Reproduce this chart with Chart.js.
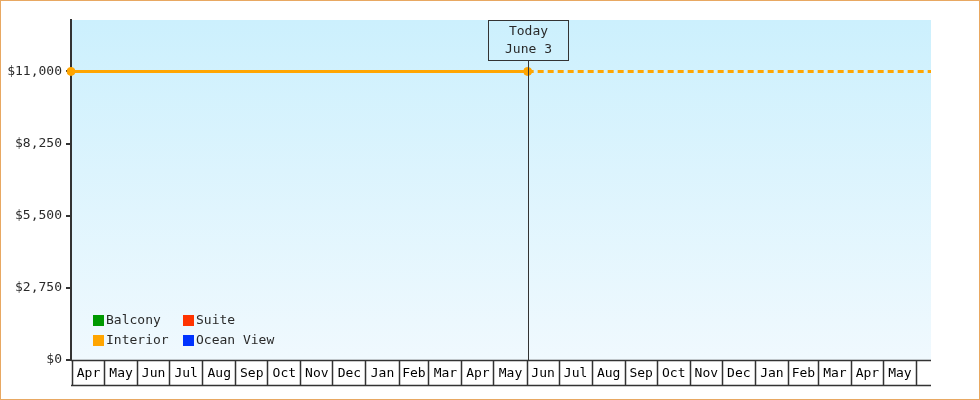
<!DOCTYPE html>
<html>
<head>
<meta charset="utf-8">
<script src="https://cdn.jsdelivr.net/npm/chart.js@4"></script>
<style>
  body { margin: 0; background: #fff; }
</style>
</head>
<body>
<canvas id="chart" width="980" height="400"></canvas>
<script>
const startDate = "2024-04-01";
const endDate = "2026-06-16";
const todayDate = "2025-06-03";
const todayLabel = ["Today", "June 3"];

const monthLabels = ["Apr", "May", "Jun", "Jul", "Aug", "Sep", "Oct", "Nov", "Dec", "Jan", "Feb", "Mar", "Apr",
  "May", "Jun", "Jul", "Aug", "Sep", "Oct", "Nov", "Dec", "Jan", "Feb", "Mar", "Apr", "May"];

const yTicks = [0, 2750, 5500, 8250, 11000];
const yMax = 12960;

const seriesNames = ["Balcony", "Suite", "Interior", "Ocean View"];
const seriesColors = ["#009900", "#ff3300", "#ffa500", "#0033ff"];

const interiorDates = ["2024-04-01", "2025-06-03", "2026-06-16"];
const interiorPrices = [11000, 11000, 11000];

const FONT = "13px 'DejaVu Sans Mono', monospace";
const INK = "#333333";
const TEXT = "#2a2a2a";

function dayOf(s) {
  const t = Date.parse(s + "T00:00:00Z");
  return Math.round((t - Date.parse(startDate + "T00:00:00Z")) / 86400000);
}
const todayDay = dayOf(todayDate);

// month start days for the box axis
const monthStarts = monthLabels.map((m, i) => {
  const d = new Date(Date.UTC(2024, 3 + i, 1));
  return dayOf(d.toISOString().slice(0, 10));
});
monthStarts.push(dayOf(new Date(Date.UTC(2024, 3 + monthLabels.length, 1)).toISOString().slice(0, 10)));

const datasets = seriesNames.map((name, i) => ({
  label: name,
  data: name === "Interior" ? interiorDates.map((d, j) => ({ x: dayOf(d), y: interiorPrices[j] })) : [],
  borderColor: seriesColors[i],
  backgroundColor: seriesColors[i],
  borderWidth: 3,
  pointRadius: name === "Interior" ? [4, 4, 0] : 0,
  pointBorderWidth: 1,
  clip: false,
  segment: {
    borderDash: ctx => ctx.p0.parsed.x >= todayDay ? [6, 4] : undefined
  }
}));

const bgPlugin = {
  id: "bg",
  beforeDraw(chart) {
    const { ctx, chartArea: a } = chart;
    const g = ctx.createLinearGradient(0, a.top, 0, a.bottom);
    g.addColorStop(0, "#ccf0fd");
    g.addColorStop(1, "#f0f9fe");
    ctx.save();
    ctx.fillStyle = g;
    ctx.fillRect(a.left, a.top, a.right - a.left, a.bottom - a.top);
    ctx.restore();
  },
  afterDraw(chart) {
    const { ctx, chartArea: a } = chart;
    const x = chart.scales.x;
    ctx.save();
    // month boxes under the plot
    const top = a.bottom, bot = a.bottom + 25;
    ctx.strokeStyle = INK;
    ctx.lineWidth = 1.5;
    ctx.beginPath();
    ctx.moveTo(a.left, top + 0.5);
    ctx.lineTo(a.right, top + 0.5);
    ctx.moveTo(a.left, bot + 0.5);
    ctx.lineTo(a.right, bot + 0.5);
    monthStarts.forEach(d => {
      const px = Math.round(x.getPixelForValue(d)) + 1.5;
      if (px <= a.right) {
        ctx.moveTo(px, top);
        ctx.lineTo(px, bot);
      }
    });
    ctx.stroke();
    ctx.fillStyle = "#000";
    ctx.font = FONT;
    ctx.textAlign = "center";
    ctx.textBaseline = "middle";
    monthLabels.forEach((m, i) => {
      const l = x.getPixelForValue(monthStarts[i]);
      const r = x.getPixelForValue(monthStarts[i + 1]);
      ctx.fillText(m, (l + r) / 2 + 1.5, top + 13.5);
    });
    // today marker
    const tx = Math.round(x.getPixelForValue(todayDay)) + 0.5;
    ctx.lineWidth = 1;
    ctx.beginPath();
    ctx.moveTo(tx, a.top + 40);
    ctx.lineTo(tx, a.bottom);
    ctx.stroke();
    ctx.strokeRect(tx - 40, a.top + 0.5, 80, 40);
    ctx.fillStyle = TEXT;
    ctx.fillText(todayLabel[0], tx, a.top + 12);
    ctx.fillText(todayLabel[1], tx, a.top + 30);
    // legend inside plot
    chart.data.datasets.forEach((ds, i) => {
      const col = i % 2, row = Math.floor(i / 2);
      const lx = a.left + 22 + col * 90;
      const ly = a.top + 295 + row * 20;
      ctx.fillStyle = ds.backgroundColor;
      ctx.fillRect(lx, ly, 11, 11);
      ctx.fillStyle = TEXT;
      ctx.textAlign = "left";
      ctx.fillText(ds.label, lx + 13, ly + 6);
    });
    // page border
    ctx.strokeStyle = "#e8a862";
    ctx.lineWidth = 1;
    ctx.strokeRect(0.5, 0.5, chart.width - 1, chart.height - 1);
    ctx.restore();
  }
};

new Chart(document.getElementById("chart"), {
  type: "line",
  data: { datasets },
  plugins: [bgPlugin],
  options: {
    responsive: false,
    animation: false,
    layout: { padding: { left: 0, top: 20, right: 49, bottom: 40 } },
    plugins: { legend: { display: false }, tooltip: { enabled: false } },
    scales: {
      x: {
        type: "linear",
        min: 0,
        max: dayOf(endDate),
        display: false
      },
      y: {
        min: 0,
        max: yMax,
        afterFit: s => { s.width = 71; },
        afterBuildTicks: s => { s.ticks = yTicks.map(v => ({ value: v })); },
        border: { color: INK, width: 2 },
        grid: { drawOnChartArea: false, color: INK, lineWidth: 2, tickLength: 5 },
        ticks: {
          color: TEXT,
          padding: 4,
          font: { family: "'DejaVu Sans Mono', monospace", size: 13 },
          callback: v => "$" + v.toLocaleString("en-US")
        }
      }
    }
  }
});
</script>
</body>
</html>
